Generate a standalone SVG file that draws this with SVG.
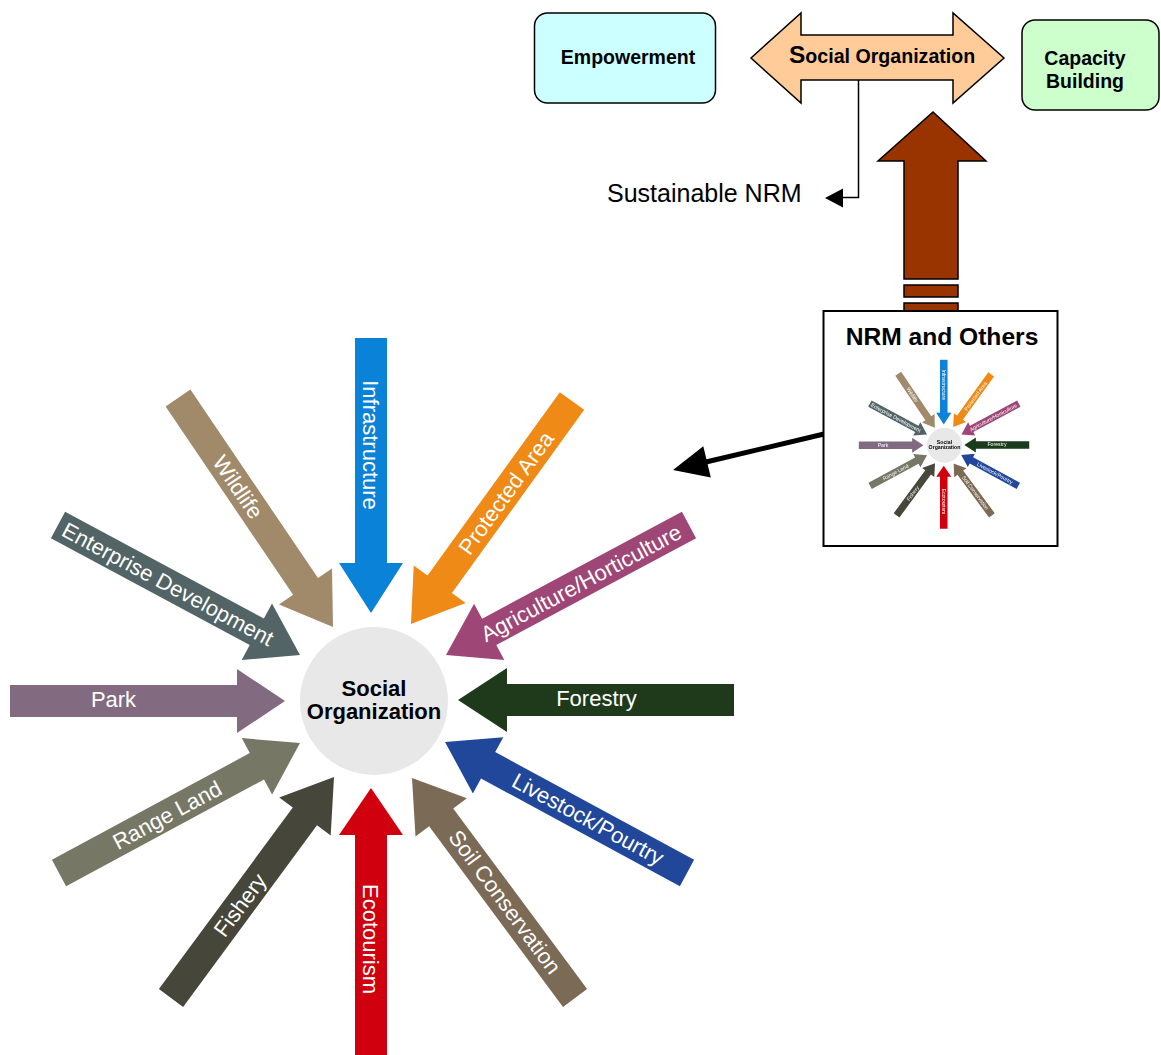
<svg xmlns="http://www.w3.org/2000/svg" xmlns:xlink="http://www.w3.org/1999/xlink" width="1161" height="1055" viewBox="0 0 1161 1055">
  <defs>
    <style>
      text { font-family: "Liberation Sans", Arial, Helvetica, sans-serif; }
      .box { stroke: #000; stroke-width: 1.5; }
      .b { font-weight: bold; fill: #000; }
      .lbl { fill: #fff; font-size: 22px; text-anchor: middle; }
      .mid { text-anchor: middle; }
      .brown { fill: #993300; stroke: #000; stroke-width: 1.5; }
    </style>
    <filter id="soft" x="-5%" y="-5%" width="110%" height="110%">
      <feGaussianBlur stdDeviation="0.6"/>
    </filter>
  </defs>

  <rect width="1161" height="1055" fill="#fff"/>

  <!-- top row -->
  <g id="empowerment">
    <rect class="box" x="534.5" y="13" width="181" height="90" rx="13" fill="#CCFFFF"/>
    <text class="b mid" x="628" y="64" font-size="19.5">Empowerment</text>
  </g>

  <g id="social-organization">
    <polygon class="box" fill="#FFCC99" points="751,58 801,13 801,35 953,35 953,13 1004,58 953,103 953,80 801,80 801,103"/>
    <text class="b" x="789" y="63" font-size="19.6"><tspan font-size="24.5">S</tspan>ocial Organization</text>
  </g>

  <g id="capacity-building">
    <rect class="box" x="1022" y="20" width="137" height="90" rx="13" fill="#CCFFCC"/>
    <text class="b mid" x="1085" y="65" font-size="19.5">Capacity</text>
    <text class="b mid" x="1085" y="88" font-size="19.5">Building</text>
  </g>

  <g id="sustainable-nrm">
    <text x="607" y="202" font-size="25" fill="#000">Sustainable NRM</text>
  </g>

  <!-- connectors -->
  <g id="connectors">
    <path d="M858.5,80 V197.5 H842" fill="none" stroke="#000" stroke-width="1.5"/>
    <polygon points="825,198 843,188.5 843,207.5" fill="#000"/>

    <polygon class="brown" points="933,112 986,161 958,161 958,279 904,279 904,161 878,161"/>
    <rect class="brown" x="904" y="285" width="54" height="12"/>
    <rect class="brown" x="904" y="303" width="54" height="9"/>

    <line x1="824" y1="434" x2="706" y2="462" stroke="#000" stroke-width="5"/>
    <polygon points="673,470 703.3,446.3 710.8,477.4" fill="#000"/>
  </g>

  <g id="nrm-and-others">
    <rect x="823.5" y="311" width="234" height="235" fill="#fff" stroke="#000" stroke-width="2"/>
    <text class="b mid" x="942" y="345" font-size="24.6">NRM and Others</text>
    <use xlink:href="#wheel" href="#wheel" transform="translate(856.2,279.8) scale(0.236)" filter="url(#soft)"/>
  </g>

  <!-- sectors around the social organization hub -->
  <g id="wheel">
    <g id="hub">
      <circle cx="374" cy="701" r="74" fill="#E8E8E8"/>
      <text class="b mid" x="374" y="696" font-size="22">Social</text>
      <text class="b mid" x="374" y="719" font-size="22">Organization</text>
    </g>

    <g id="infrastructure">
      <polygon fill="#0A82D8" points="355,338 387,338 387,563 403,563 371,613 339,563 355,563"/>
      <text class="lbl" transform="translate(371,445) rotate(90)" dy="0.35em">Infrastructure</text>
    </g>

    <g id="ecotourism">
      <polygon fill="#D0000F" points="355,1055 387,1055 387,835 403,835 371,788 339,835 355,835"/>
      <text class="lbl" transform="translate(371,939) rotate(90)" dy="0.35em">Ecotourism</text>
    </g>

    <g id="park">
      <polygon fill="#826A80" points="10,685 237,685 237,669 285,701 237,733 237,717 10,717"/>
      <text class="lbl" x="113.5" y="707">Park</text>
    </g>

    <g id="forestry">
      <polygon fill="#1E3A1B" points="734,684 507,684 507,668 458,700 507,732 507,716 734,716"/>
      <text class="lbl" x="596.5" y="706">Forestry</text>
    </g>

    <g id="wildlife">
      <polygon fill="#A08A6A" points="165.6,406.4 293.1,594.8 279.0,604.4 333,627 332.0,568.5 318.0,578.0 190.4,389.6"/>
      <text class="lbl" transform="translate(238,487) rotate(55.9)" dy="0.35em">Wildlife</text>
    </g>

    <g id="enterprise-development">
      <polygon fill="#526466" points="50.9,538.2 249.7,645.0 241.7,660.0 300,655 272.0,603.6 263.9,618.6 65.1,511.8"/>
      <text class="lbl" transform="translate(168,584) rotate(28.2)" dy="0.35em">Enterprise Development</text>
    </g>

    <g id="protected-area">
      <polygon fill="#EF8A16" points="559.8,392.2 427.5,575.5 413.7,565.5 411,624 465.6,603.0 451.9,593.0 584.2,409.8"/>
      <text class="lbl" transform="translate(506,493) rotate(-54.2)" dy="0.35em">Protected Area</text>
    </g>

    <g id="agriculture-horticulture">
      <polygon fill="#9E4676" points="681.9,511.8 482.1,618.7 474.1,603.7 446,655 504.3,660.1 496.3,645.1 696.1,538.2"/>
      <text class="lbl" transform="translate(581,583) rotate(-28.1)" dy="0.35em">Agriculture/Horticulture</text>
    </g>

    <g id="livestock-pourtry">
      <polygon fill="#21479A" points="694.1,859.8 495.2,752.1 503.3,737.2 445,742 472.9,793.5 481.0,778.5 679.9,886.2"/>
      <text class="lbl" transform="translate(588,819) rotate(28.4)" dy="0.35em">Livestock/Pourtry</text>
    </g>

    <g id="soil-conservation">
      <polygon fill="#7B6A55" points="587.1,989.1 453.2,808.4 466.9,798.3 412,778 415.5,836.4 429.1,826.3 563.0,1006.9"/>
      <text class="lbl" transform="translate(505,902) rotate(53.5)" dy="0.35em">Soil  Conservation</text>
    </g>

    <g id="fishery">
      <polygon fill="#46463A" points="183.1,1006.9 317.0,825.3 330.7,835.4 334,777 279.2,797.4 292.8,807.5 158.9,989.1"/>
      <text class="lbl" transform="translate(240,905) rotate(-53.6)" dy="0.35em">Fishery</text>
    </g>

    <g id="range-land">
      <polygon fill="#777766" points="66.1,886.2 264.0,779.5 272.1,794.4 300,743 241.7,738.1 249.8,753.1 51.9,859.8"/>
      <text class="lbl" transform="translate(167,815) rotate(-28.3)" dy="0.35em">Range Land</text>
    </g>
  </g>
</svg>
